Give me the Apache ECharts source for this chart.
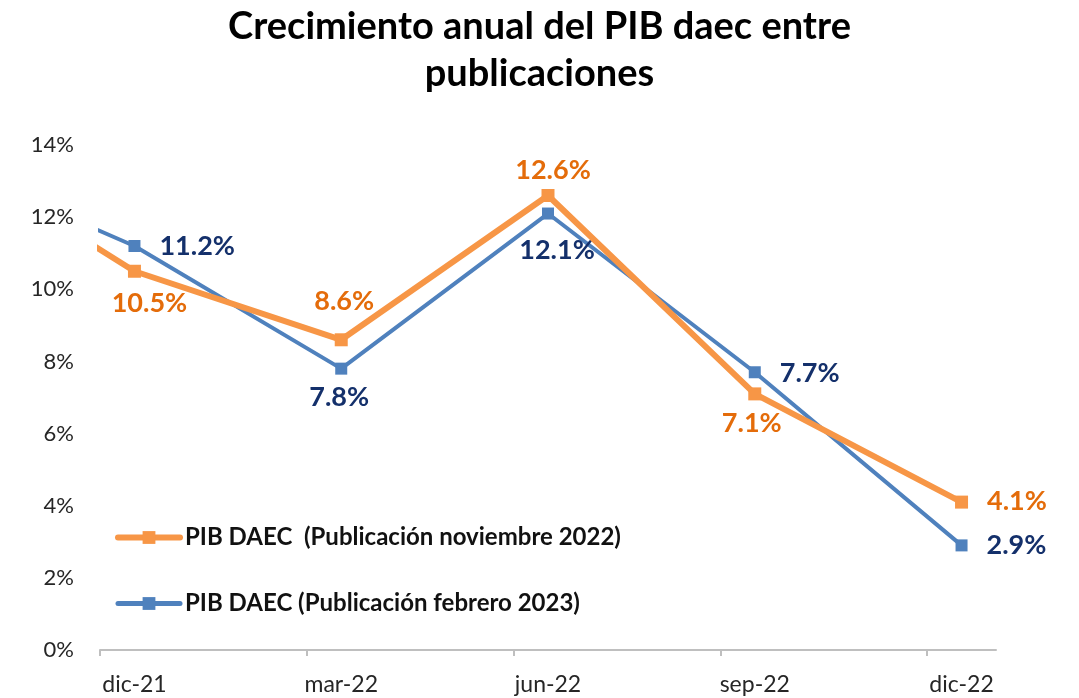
<!DOCTYPE html>
<html>
<head>
<meta charset="utf-8">
<script src="https://cdn.jsdelivr.net/npm/echarts@6/dist/echarts.min.js"></script>
<style>
html,body{margin:0;padding:0;background:#fff;}
#chart{width:1079px;height:698px;}
</style>
</head>
<body>
<div id="chart"></div>
<script>
// Quarter labels shown on the x axis
var categories = ['dic-21', 'mar-22', 'jun-22', 'sep-22', 'dic-22'];
// Quarters of the data (first one lies before the axis start, only its line segment shows)
var periods = ['sep-21', 'dic-21', 'mar-22', 'jun-22', 'sep-22', 'dic-22'];
// Annual growth, %
var pibNov2022 = [14.1, 10.5, 8.6, 12.6, 7.1, 4.1];
var pibFeb2023 = [13.7, 11.2, 7.8, 12.1, 7.7, 2.9];
var yTicks = [0, 2, 4, 6, 8, 10, 12, 14];
var seriesNames = ['PIB DAEC  (Publicación noviembre 2022)', 'PIB DAEC (Publicación febrero 2023)'];

// month index: dic-21 start = 0; data points sit mid-month
function monthPos(i) { return (i - 1) * 3 + 0.5; }

var orangePos = [null, 'bottom', 'top', 'top', 'bottom', 'right'];
var orangeOff = [null, [15, 7], [3, -13], [5, 0], [-3, 4], [14, -1]];
var bluePos = [null, 'right', 'bottom', 'bottom', 'right', 'right'];
var blueOff = [null, [14, 0], [-2, 4], [9, 12], [14, 1], [14, 0]];

function build(vals, pos, off, color) {
  return vals.map(function (v, i) {
    var item = { value: [monthPos(i), v] };
    if (i === 0) {
      item.label = { show: false };
    } else {
      item.label = { show: true, position: pos[i], offset: off[i], color: color };
    }
    return item;
  });
}

var chart = echarts.init(document.getElementById('chart'));
var FONT = 'Lato, "Open Sans", sans-serif';
var labelFmt = function (p) { return p.value[1].toFixed(1) + '%'; };
chart.setOption({
  animation: false,
  backgroundColor: '#ffffff',
  title: {
    text: 'Crecimiento anual del PIB daec entre\npublicaciones',
    left: 'center',
    top: -2,
    padding: [5, 19, 5, 5],
    textStyle: { fontFamily: FONT, fontSize: 38, fontWeight: 'bold', color: '#000', lineHeight: 47 }
  },
  legend: {
    orient: 'vertical',
    left: 110,
    top: 520,
    itemGap: 41,
    itemWidth: 62,
    itemHeight: 16,
    data: [
      { name: seriesNames[0], lineStyle: { width: 6, cap: 'round' } },
      { name: seriesNames[1], lineStyle: { width: 5, cap: 'round' } }
    ],
    textStyle: { fontFamily: FONT, fontSize: 24, lineHeight: 25, fontWeight: 'bold', color: '#111' }
  },
  grid: { left: 100, right: 83, top: 145, bottom: 48, containLabel: false },
  xAxis: {
    type: 'value',
    min: 0,
    max: 13,
    interval: 3,
    splitLine: { show: false },
    axisLine: { show: true, lineStyle: { color: '#bfbfbf', width: 2 } },
    axisTick: { show: true, length: 6, lineStyle: { color: '#bfbfbf', width: 2 }, customValues: [0, 3, 6, 9, 12] },
    axisLabel: {
      customValues: [0.5, 3.5, 6.5, 9.5, 12.5],
      margin: 23,
      fontFamily: FONT,
      fontSize: 23,
      color: '#262626',
      formatter: function (v) { return categories[Math.floor(v / 3)] || ''; }
    }
  },
  yAxis: {
    type: 'value',
    min: yTicks[0],
    max: yTicks[yTicks.length - 1],
    interval: 2,
    splitLine: { show: false },
    axisLine: { show: false },
    axisTick: { show: false },
    axisLabel: { margin: 26, fontFamily: FONT, fontSize: 22, color: '#262626', formatter: '{value}%' }
  },
  series: [
    {
      name: seriesNames[0],
      type: 'line',
      z: 3,
      data: build(pibNov2022, orangePos, orangeOff, '#E46C0A'),
      symbol: 'rect',
      symbolSize: 13,
      lineStyle: { color: '#F79646', width: 6 },
      itemStyle: { color: '#F79646' },
      label: { fontFamily: FONT, fontSize: 27, fontWeight: 'bold', formatter: labelFmt }
    },
    {
      name: seriesNames[1],
      type: 'line',
      z: 2,
      data: build(pibFeb2023, bluePos, blueOff, '#14306B'),
      symbol: 'rect',
      symbolSize: 12,
      lineStyle: { color: '#4F81BD', width: 4 },
      itemStyle: { color: '#4F81BD' },
      label: { fontFamily: FONT, fontSize: 27, fontWeight: 'bold', formatter: labelFmt }
    }
  ]
});
</script>
</body>
</html>
